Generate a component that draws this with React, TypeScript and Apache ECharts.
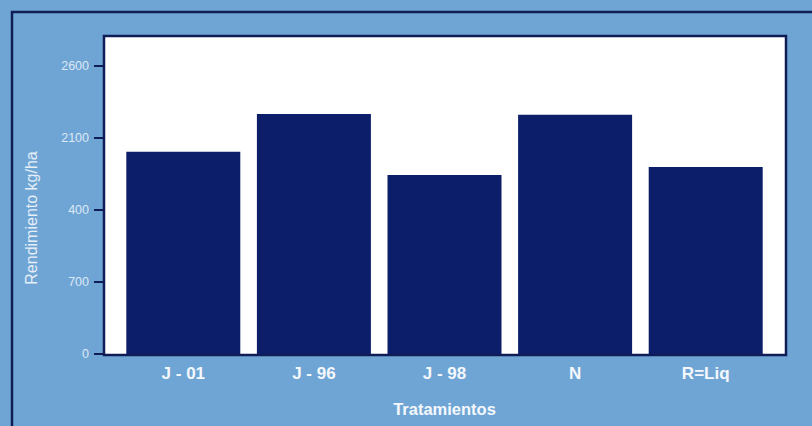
import React, { useEffect, useRef } from "react";
import * as echarts from "echarts";

const categories = ["J - 01", "J - 96", "J - 98", "N", "R=Liq"];
const yieldValues = [1964, 2333, 1740, 2324, 1818];
const tickValues = [0, 700, 1400, 2100, 2800];
const tickLabels = ["0", "700", "400", "2100", "2600"];
const yAxisTitle = "Rendimiento kg/ha";
const xAxisTitle = "Tratamientos";

const BG = "#6fa5d4";
const NAVY = "#0c1e69";
const FRAME = "#101c55";
const CONDENSED = "'Liberation Sans Narrow', 'Liberation Sans', sans-serif";

export default function App() {
  const ref = useRef<HTMLDivElement>(null);
  useEffect(() => {
    if (!ref.current) return;
    const chart = echarts.init(ref.current, null, { renderer: "svg" });
    chart.setOption({
      animation: false,
      backgroundColor: BG,
      grid: { left: 118, right: 41, top: 37, bottom: 72 },
      graphic: [
        {
          type: "polyline",
          z: -20,
          silent: true,
          shape: { points: [[12, 440], [12, 12], [830, 12]] },
          style: { stroke: FRAME, lineWidth: 2.5, fill: null },
        },
        {
          type: "rect",
          z: -10,
          silent: true,
          shape: { x: 104, y: 36, width: 682, height: 319 },
          style: { fill: "#ffffff", stroke: FRAME, lineWidth: 2.5 },
        },
        {
          type: "text",
          silent: true,
          x: 31,
          y: 218,
          rotation: Math.PI / 2,
          style: {
            text: yAxisTitle,
            fill: "#e6eef8",
            font: "16px 'Liberation Sans', sans-serif",
            align: "center",
            verticalAlign: "middle",
          },
        },
      ],
      xAxis: {
        type: "category",
        data: categories,
        name: xAxisTitle,
        nameLocation: "middle",
        nameGap: 46,
        nameTextStyle: {
          color: "#f4f8fc",
          fontSize: 16.5,
          fontWeight: "bold",
          fontFamily: CONDENSED,
        },
        axisLine: { show: false },
        axisTick: { show: false },
        axisLabel: {
          color: "#f4f8fc",
          fontSize: 17,
          fontWeight: "bold",
          fontFamily: CONDENSED,
          margin: 11,
        },
      },
      yAxis: {
        type: "value",
        min: 0,
        max: 3080,
        offset: 14,
        splitLine: { show: false },
        axisLine: { show: true, lineStyle: { color: FRAME, width: 2 } },
        axisTick: {
          show: true,
          length: 10,
          customValues: tickValues,
          lineStyle: { color: FRAME, width: 2 },
        },
        axisLabel: {
          customValues: tickValues,
          color: "#dce8f4",
          fontSize: 12.5,
          fontFamily: "'Liberation Sans', sans-serif",
          margin: 15,
          formatter: (v: number) => {
            const i = tickValues.indexOf(v);
            return i >= 0 ? tickLabels[i] : "";
          },
        },
      },
      series: [
        {
          type: "bar",
          data: yieldValues,
          barWidth: 114,
          itemStyle: { color: NAVY },
        },
      ],
    });
    return () => chart.dispose();
  }, []);
  return (
    <div
      ref={ref}
      style={{ position: "fixed", left: 0, top: 0, width: 812, height: 426 }}
    />
  );
}
